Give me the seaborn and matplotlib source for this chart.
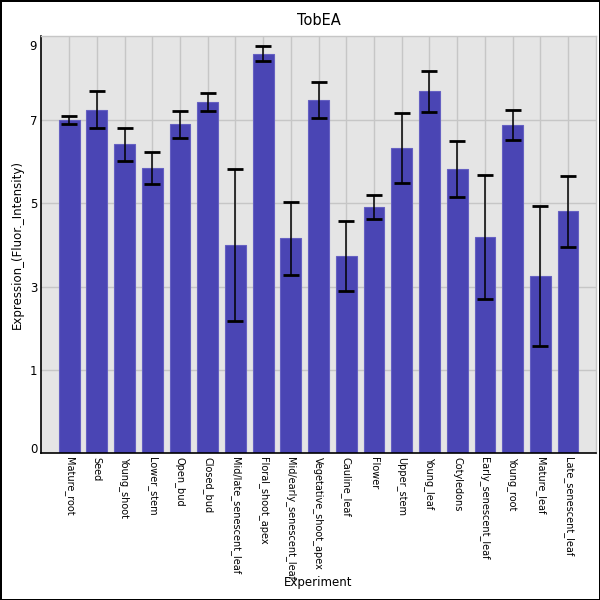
import pandas as pd
import matplotlib
matplotlib.use('Agg')
import matplotlib.pyplot as plt
import seaborn as sns

# data
tissues = ['Mature_root', 'Seed', 'Young_shoot', 'Lower_stem', 'Open_bud', 'Closed_bud',
           'Mid/late_senescent_leaf', 'Floral_shoot_apex', 'Mid/early_senescent_leaf',
           'Vegetative_shoot_apex', 'Cauline_leaf', 'Flower', 'Upper_stem', 'Young_leaf',
           'Cotyledons', 'Early_senescent_leaf', 'Young_root', 'Mature_leaf',
           'Late_senescent_leaf']
expression = [6.99, 7.24, 6.41, 5.84, 6.89, 7.42, 3.99, 8.57, 4.16, 7.47,
              3.73, 4.91, 6.32, 7.68, 5.82, 4.19, 6.87, 3.26, 4.81]
err = [0.10, 0.45, 0.39, 0.38, 0.32, 0.22, 1.82, 0.18, 0.87, 0.44,
       0.84, 0.29, 0.83, 0.49, 0.67, 1.49, 0.36, 1.67, 0.85]
ytick_vals = [1, 3, 5, 7]

df = pd.DataFrame({'Experiment': tissues, 'Expr': expression})

sns.set_style('whitegrid', {'axes.facecolor': '#e5e5e5', 'grid.color': '#c6c6c6',
                            'text.color': 'black', 'axes.labelcolor': 'black',
                            'xtick.color': 'black', 'ytick.color': 'black'})
plt.rcParams['font.family'] = ['DejaVu Sans']

fig = plt.figure(figsize=(6, 6), dpi=100)
fig.patch.set_edgecolor('black')
fig.patch.set_linewidth(2)
ax = fig.add_axes([0.069, 0.245, 0.924, 0.695])

ylo, yhi = -0.98, 9.0
sns.barplot(data=df, x='Experiment', y='Expr', color='#4a45b4', saturation=1,
            width=0.75, errorbar=None, edgecolor='#6560c2', linewidth=0.8, ax=ax)
# bars start at the bottom of the axis
for p in ax.patches:
    top = p.get_y() + p.get_height()
    p.set_y(ylo)
    p.set_height(top - ylo)

ax.errorbar(range(len(tissues)), expression, yerr=err, fmt='none', ecolor='black',
            elinewidth=1.1, capsize=6, capthick=2, zorder=5)

ax.set_xlim(-1, len(tissues))
ax.set_ylim(ylo, yhi)
ax.set_axisbelow(True)
ax.grid(True, axis='both', linewidth=1)

# edge labels sit just inside the axis, like the reference
ax.set_yticks([-0.86] + ytick_vals + [8.78])
ax.set_yticklabels(['0'] + [str(v) for v in ytick_vals] + ['9'], fontsize=8.5)
ylines = ax.get_ygridlines()
ylines[0].set_visible(False)
ylines[-1].set_visible(False)

ax.set_xticks(range(len(tissues)))
ax.set_xticklabels(tissues, rotation=270, fontsize=7, va='top', ha='center')
ax.tick_params(axis='both', length=0, pad=3)

ax.set_xlabel('Experiment', fontsize=8.5, labelpad=-3)
ax.set_ylabel('Expression_(Fluor._Intensity)', fontsize=8.5, labelpad=4)
ax.set_title('TobEA', fontsize=10.5, pad=8)

for s in ['left', 'bottom']:
    ax.spines[s].set_color('black')
    ax.spines[s].set_linewidth(1.2)
for s in ['top', 'right']:
    ax.spines[s].set_color('#c6c6c6')
    ax.spines[s].set_linewidth(1)

fig.savefig('out.png', dpi=100, edgecolor=fig.get_edgecolor())
